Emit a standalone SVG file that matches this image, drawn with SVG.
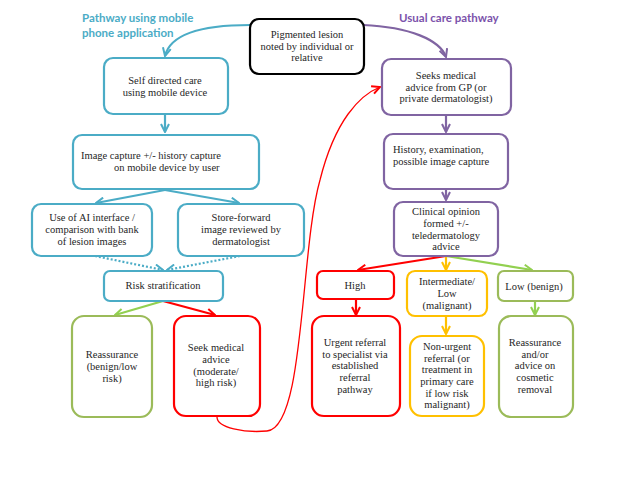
<svg xmlns="http://www.w3.org/2000/svg" width="640" height="480" viewBox="0 0 640 480">
<style>
.box{fill:#fff;stroke-width:2.2}
.t{font-family:"Liberation Serif","DejaVu Serif",serif;font-size:10.5px;fill:#262626;text-anchor:middle}
.ts{font-family:"Liberation Serif","DejaVu Serif",serif;font-size:10.5px;fill:#262626}
.h{font-family:Lato,"Liberation Sans",sans-serif;font-size:11.5px;font-weight:bold}
.c{fill:none;stroke-width:2.2}
.teal{stroke:#4BACC6}.pur{stroke:#8064A2}.red{stroke:#FF0000}.yel{stroke:#FFC000}.grn{stroke:#9BBB59}.lg{stroke:#92D050}.blk{stroke:#000}
</style>
<defs>
<marker id="mT" viewBox="0 0 10 10" refX="9" refY="5" markerWidth="10" markerHeight="10" markerUnits="userSpaceOnUse" orient="auto"><path d="M1,1 L9,5 L1,9" fill="none" stroke="#4BACC6" stroke-width="2"/></marker>
<marker id="mP" viewBox="0 0 10 10" refX="9" refY="5" markerWidth="10" markerHeight="10" markerUnits="userSpaceOnUse" orient="auto"><path d="M1,1 L9,5 L1,9" fill="none" stroke="#8064A2" stroke-width="2"/></marker>
<marker id="mR" viewBox="0 0 10 10" refX="9" refY="5" markerWidth="10" markerHeight="10" markerUnits="userSpaceOnUse" orient="auto"><path d="M1,1 L9,5 L1,9" fill="none" stroke="#FF0000" stroke-width="2"/></marker>
<marker id="mY" viewBox="0 0 10 10" refX="9" refY="5" markerWidth="10" markerHeight="10" markerUnits="userSpaceOnUse" orient="auto"><path d="M1,1 L9,5 L1,9" fill="none" stroke="#FFC000" stroke-width="2"/></marker>
<marker id="mG" viewBox="0 0 10 10" refX="9" refY="5" markerWidth="10" markerHeight="10" markerUnits="userSpaceOnUse" orient="auto"><path d="M1,1 L9,5 L1,9" fill="none" stroke="#92D050" stroke-width="2"/></marker>
</defs>
<rect width="640" height="480" fill="#fff"/>
<g id="titles">
<text class="h" x="82" y="22" fill="#4BACC6">Pathway using mobile</text>
<text class="h" x="82" y="37" fill="#4BACC6">phone application</text>
<text class="h" x="399" y="22" fill="#7B52AB">Usual care pathway</text>
</g>
<g id="connectors">
<path class="c teal" d="M250,25 C200,25 170,35 165,56" marker-end="url(#mT)"/>
<path class="c pur" d="M363,25 C410,27 440,40 446,57" marker-end="url(#mP)"/>
<path class="c teal" d="M165,114 L165,132" marker-end="url(#mT)"/>
<path class="c teal" d="M165,190 L96,203" marker-end="url(#mT)"/>
<path class="c teal" d="M165,190 L239,203" marker-end="url(#mT)"/>
<path class="c teal" d="M95,256 L163,270" stroke-dasharray="2,2" marker-end="url(#mT)"/>
<path class="c teal" d="M240,256 L167,270" stroke-dasharray="2,2" marker-end="url(#mT)"/>
<path class="c lg" d="M163,301 L115,315" marker-end="url(#mG)"/>
<path class="c red" d="M163,301 L215,315" marker-end="url(#mR)"/>
<path fill="none" stroke="#FF0000" stroke-width="1.3" d="M217,417 C217,428 245,433 267,431 C305,428 300,250 320,180 C335,120 360,95 380,87" marker-end="url(#mR)"/>
<path class="c pur" d="M446,115 L446,132" marker-end="url(#mP)"/>
<path class="c pur" d="M446,189 L446,200" marker-end="url(#mP)"/>
<path class="c red" d="M446,256 L358,270" marker-end="url(#mR)"/>
<path class="c yel" d="M446,256 L446,270" marker-end="url(#mY)"/>
<path class="c lg" d="M446,256 L532,270" marker-end="url(#mG)"/>
<path class="c red" d="M356,300 L356,315" marker-end="url(#mR)"/>
<path class="c yel" d="M446,316 L446,334" marker-end="url(#mY)"/>
<path class="c lg" d="M535,301 L535,315" marker-end="url(#mG)"/>
</g>
<g id="n-lesion"><rect class="box blk" x="250" y="19" width="114" height="55" rx="9"/>
<text class="t" x="307" y="38">Pigmented lesion</text><text class="t" x="307" y="50">noted by individual or</text><text class="t" x="307" y="61">relative</text></g>
<g id="n-self"><rect class="box teal" x="104" y="58" width="124" height="56" rx="9"/>
<text class="t" x="165" y="84">Self directed care</text><text class="t" x="165" y="96">using mobile device</text></g>
<g id="n-capture"><rect class="box teal" x="73" y="135" width="186" height="54" rx="9"/>
<text class="ts" x="81" y="159">Image capture +/- history capture</text><text class="ts" x="114" y="171">on mobile device by user</text></g>
<g id="n-ai"><rect class="box teal" x="32" y="204" width="120" height="52" rx="9"/>
<text class="t" x="92" y="221">Use of AI interface /</text><text class="t" x="92" y="233">comparison with bank</text><text class="t" x="92" y="245">of lesion images</text></g>
<g id="n-store"><rect class="box teal" x="178" y="204" width="126" height="52" rx="9"/>
<text class="t" x="241" y="221">Store-forward</text><text class="t" x="241" y="233">image reviewed by</text><text class="t" x="241" y="245">dermatologist</text></g>
<g id="n-risk"><rect class="box teal" x="104" y="271" width="119" height="30" rx="6"/>
<text class="t" x="163" y="289">Risk stratification</text></g>
<g id="n-reass1"><rect class="box grn" x="72" y="316" width="80" height="101" rx="12"/>
<text class="t" x="112" y="358">Reassurance</text><text class="t" x="112" y="370">(benign/low</text><text class="t" x="112" y="382">risk)</text></g>
<g id="n-seek"><rect class="box red" x="174" y="316" width="86" height="100" rx="12"/>
<text class="t" x="216" y="351">Seek medical</text><text class="t" x="216" y="363">advice</text><text class="t" x="216" y="375">(moderate/</text><text class="t" x="216" y="386">high risk)</text></g>
<g id="n-gp"><rect class="box pur" x="382" y="59" width="129" height="56" rx="9"/>
<text class="t" x="446" y="79">Seeks medical</text><text class="t" x="446" y="91">advice from GP (or</text><text class="t" x="446" y="102">private dermatologist)</text></g>
<g id="n-history"><rect class="box pur" x="384" y="134" width="124" height="55" rx="9"/>
<text class="ts" x="393" y="153">History, examination,</text><text class="ts" x="393" y="165">possible image capture</text></g>
<g id="n-clinical"><rect class="box pur" x="394" y="202" width="104" height="54" rx="9"/>
<text class="t" x="446" y="215">Clinical opinion</text><text class="t" x="446" y="227">formed +/-</text><text class="t" x="446" y="239">teledermatology</text><text class="t" x="446" y="250">advice</text></g>
<g id="n-high"><rect class="box red" x="317" y="271" width="77" height="28" rx="6"/>
<text class="t" x="355" y="289">High</text></g>
<g id="n-inter"><rect class="box yel" x="407" y="271" width="80" height="45" rx="8"/>
<text class="t" x="447" y="285">Intermediate/</text><text class="t" x="447" y="297">Low</text><text class="t" x="447" y="309">(malignant)</text></g>
<g id="n-low"><rect class="box grn" x="498" y="271" width="75" height="30" rx="6"/>
<text class="t" x="534" y="290">Low (benign)</text></g>
<g id="n-urgent"><rect class="box red" x="312" y="316" width="88" height="100" rx="12"/>
<text class="t" x="355" y="346">Urgent referral</text><text class="t" x="355" y="358">to specialist via</text><text class="t" x="355" y="369">established</text><text class="t" x="355" y="381">referral</text><text class="t" x="355" y="393">pathway</text></g>
<g id="n-nonurgent"><rect class="box yel" x="410" y="336" width="74" height="80" rx="12"/>
<text class="t" x="447" y="350">Non-urgent</text><text class="t" x="447" y="362">referral (or</text><text class="t" x="447" y="373">treatment in</text><text class="t" x="447" y="385">primary care</text><text class="t" x="447" y="397">if low risk</text><text class="t" x="447" y="408">malignant)</text></g>
<g id="n-reass2"><rect class="box grn" x="499" y="316" width="74" height="101" rx="12"/>
<text class="t" x="535" y="346">Reassurance</text><text class="t" x="535" y="358">and/or</text><text class="t" x="535" y="369">advice on</text><text class="t" x="535" y="381">cosmetic</text><text class="t" x="535" y="393">removal</text></g>
</svg>
